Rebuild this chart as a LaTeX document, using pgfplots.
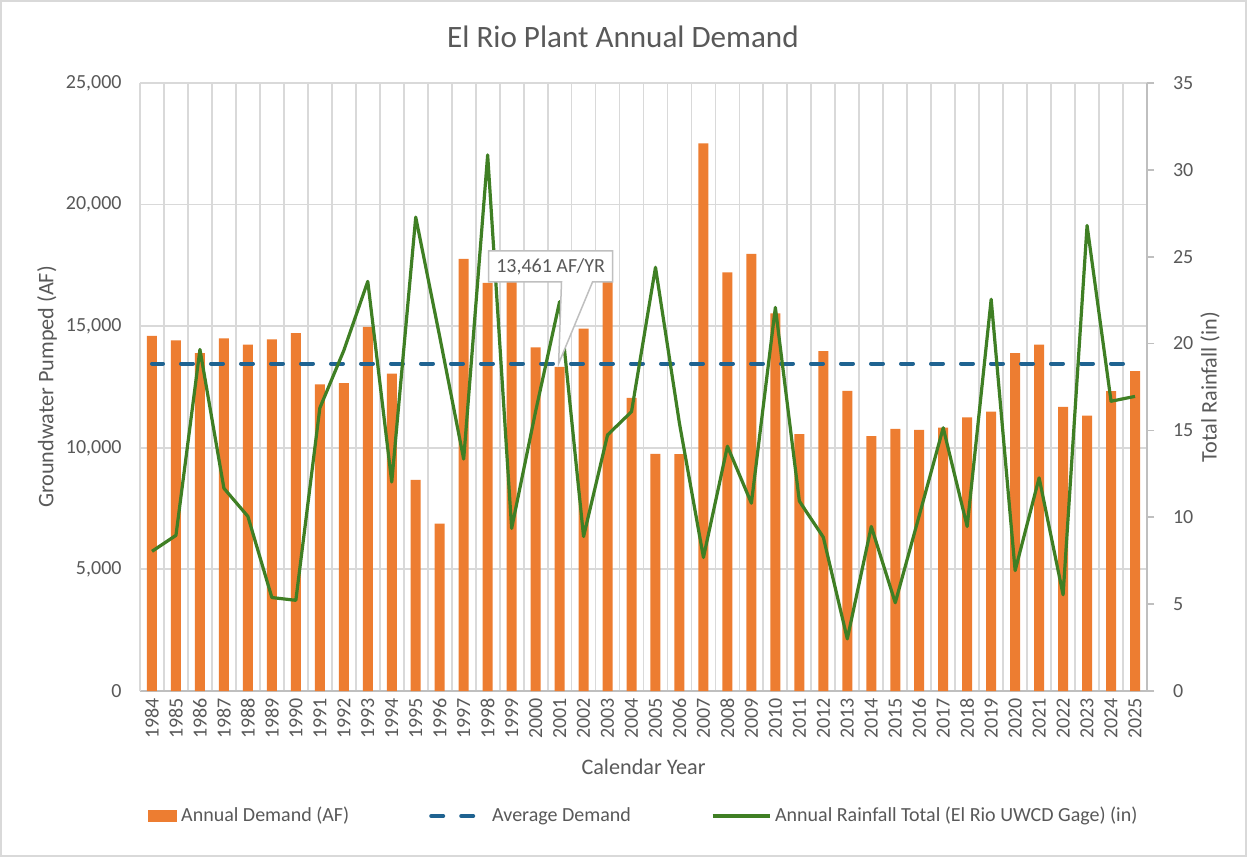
\documentclass[border=0pt]{standalone}
\usepackage{fontspec}
\setmainfont{Carlito}
\usepackage{pgfplots}
\usepackage{pgfplotstable}
\pgfplotsset{compat=1.18}
\definecolor{barorange}{HTML}{ED7D31}
\definecolor{avgblue}{HTML}{1F6391}
\definecolor{raingreen}{HTML}{3F7F24}
\definecolor{txtgray}{HTML}{595959}
\definecolor{gridgray}{HTML}{D9D9D9}
\definecolor{axgray}{HTML}{BFBFBF}

\pgfplotstableread{
idx year demand rain
0 1984 14600 8.04
1 1985 14420 8.96
2 1986 13890 19.66
3 1987 14500 11.67
4 1988 14240 10.05
5 1989 14460 5.38
6 1990 14720 5.22
7 1991 12610 16.29
8 1992 12660 19.6
9 1993 14970 23.58
10 1994 13050 12.03
11 1995 8680 27.28
12 1996 6880 20.4
13 1997 17770 13.35
14 1998 16780 30.86
15 1999 17400 9.36
16 2000 14130 16.1
17 2001 13330 22.41
18 2002 14900 8.89
19 2003 17500 14.74
20 2004 12050 16.08
21 2005 9750 24.39
22 2006 9740 15.4
23 2007 22520 7.69
24 2008 17210 14.09
25 2009 17970 10.81
26 2010 15530 22.08
27 2011 10560 10.93
28 2012 13980 8.85
29 2013 12340 3.00
30 2014 10480 9.47
31 2015 10780 5.08
32 2016 10740 10.1
33 2017 10830 15.15
34 2018 11250 9.47
35 2019 11490 22.55
36 2020 13890 6.93
37 2021 14240 12.27
38 2022 11680 5.54
39 2023 11320 26.80
40 2024 12330 16.68
41 2025 13150 16.96
}\datatable

\begin{document}
\begin{tikzpicture}
\path[use as bounding box] (0,0) rectangle (623.5pt,428.5pt);
\fill[white] (0,0) rectangle (623.5pt,428.5pt);
\draw[gridgray, line width=0.8pt] (0.4pt,0.4pt) rectangle (623.1pt,428.1pt);

\begin{axis}[
  at={(70pt,83pt)}, anchor=south west,
  scale only axis, width=503.5pt, height=304pt,
  xmin=-0.5, xmax=41.5, ymin=0, ymax=25000,
  axis x line*=bottom, axis y line*=left,
  x axis line style={axgray, line width=1pt, -},
  y axis line style={gridgray, line width=0.9pt, -},
  xtick={0,...,41},
  xticklabels={1984,1985,1986,1987,1988,1989,1990,1991,1992,1993,1994,1995,1996,1997,1998,1999,2000,2001,2002,2003,2004,2005,2006,2007,2008,2009,2010,2011,2012,2013,2014,2015,2016,2017,2018,2019,2020,2021,2022,2023,2024,2025},
  xticklabel style={rotate=90, anchor=east, font=\fontsize{10}{12}\selectfont, text=txtgray},
  major tick length=0pt,
  minor xtick={-0.5,0.5,...,41.5},
  minor tick length=0pt,
  xminorgrids, minor grid style={gridgray, line width=0.9pt},
  ytick={0,5000,10000,15000,20000,25000},
  ymajorgrids, major grid style={gridgray, line width=0.9pt},
  scaled y ticks=false,
  /pgf/number format/1000 sep={,},
  /pgf/number format/assume math mode=true,
  yticklabel style={font=\fontsize{10}{12}\selectfont, text=txtgray, xshift=-5.7pt},
  xlabel={Calendar Year},
  x label style={at={(axis description cs:0.5,-0.125)}, anchor=center, font=\fontsize{11.1}{13}\selectfont, text=txtgray},
  ylabel={Groundwater Pumped (AF)},
  y label style={at={(axis description cs:-0.0924,0.5)}, anchor=center, font=\fontsize{11.1}{13}\selectfont, text=txtgray},
  title={El Rio Plant Annual Demand},
  title style={at={(axis description cs:0.4796,1)}, anchor=base, yshift=11.5pt, font=\fontsize{15.55}{18}\selectfont, text=txtgray},
]
\addplot[ybar, bar width=5pt, fill=barorange, draw=none] table[x=idx, y=demand]{\datatable};
\addplot[avgblue, line width=2pt, line cap=round, dash pattern=on 6pt off 9pt, dash phase=0.5pt] coordinates {(0,13461) (41,13461)};
\end{axis}

\begin{axis}[
  at={(70pt,83pt)}, anchor=south west,
  scale only axis, width=503.5pt, height=304pt,
  xmin=-0.5, xmax=41.5, ymin=0, ymax=35,
  axis x line=none, axis y line*=right,
  y axis line style={axgray, line width=0.9pt, -},
  ytick={0,5,...,35},
  major tick length=3.5pt, tick align=outside,
  major tick style={axgray, line width=0.9pt},
  /pgf/number format/assume math mode=true,
  yticklabel style={font=\fontsize{10}{12}\selectfont, text=txtgray, xshift=6pt},
  ylabel={Total Rainfall (in)},
  y label style={at={(axis description cs:1.0626,0.5)}, anchor=center, font=\fontsize{11.1}{13}\selectfont, text=txtgray},
  legend columns=3,
  legend style={at={(axis description cs:0.00794,-0.2056)}, anchor=west, draw=none, fill=none, inner sep=0pt,
    font=\fontsize{10}{12}\selectfont, text=txtgray,
    /tikz/every even column/.append style={column sep=38pt}},
]
\addlegendimage{legend image code/.code={\fill[barorange] (0pt,-2.75pt) rectangle (14pt,2.75pt);}}
\addlegendentry{Annual Demand (AF)}
\addlegendimage{legend image code/.code={\draw[avgblue, line width=2pt, line cap=round, dash pattern=on 6pt off 9pt] (1pt,0pt) -- (28.5pt,0pt);}}
\addlegendentry{Average Demand}
\addplot[raingreen, line width=1.6pt, line join=round, legend image code/.code={\draw[raingreen, line width=1.6pt] (0pt,0pt) -- (28.5pt,0pt);}] table[x=idx, y=rain]{\datatable};
\addlegendentry{Annual Rainfall Total (El Rio UWCD Gage) (in)}
\filldraw[fill=white, draw=axgray, line width=0.75pt] (axis cs:14.04,23.55) -- (axis cs:17.08,23.55) -- (axis cs:16.96,18.845) -- (axis cs:18.375,23.55) -- (axis cs:19.21,23.55) -- (axis cs:19.21,25.33) -- (axis cs:14.04,25.33) -- cycle;
\node[text=txtgray, font=\fontsize{10}{12}\selectfont] at (axis cs:16.625,24.44) {13,461 AF/YR};
\end{axis}
\end{tikzpicture}
\end{document}
